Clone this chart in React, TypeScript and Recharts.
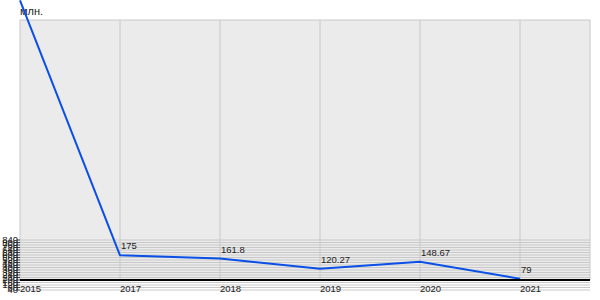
import { LineChart, Line, XAxis, YAxis, CartesianGrid, LabelList } from "recharts"

const years = ["2015", "2017", "2018", "2019", "2020", "2021"]
const values = [1220, 175, 161.8, 120.27, 148.67, 79]
const yTicks = [40, 80, 120, 160, 200, 240, 280, 320, 360, 400, 440, 480, 520, 560, 600, 640, 680, 720, 760, 800, 840]
const unit = "млн."

const data = years.map((year, i) => ({ year, value: values[i] }))

const font = "'Liberation Sans', Arial, sans-serif"

function XTick({ x, payload }: any) {
  return (
    <text x={x} y={292} textAnchor="start" fontSize={9.5} fontFamily={font} fill="#222">
      {payload.value}
    </text>
  )
}

function YTick({ y, payload }: any) {
  return (
    <g>
      <line x1={16} x2={20} y1={y} y2={y} stroke="#444" />
      <text x={18} y={y + 3} textAnchor="end" fontSize={9.5} fontFamily={font} fill="#222">
        {payload.value}
      </text>
    </g>
  )
}

function PointLabel({ x, y, value }: any) {
  return (
    <text x={x + 1} y={y - 6} textAnchor="start" fontSize={9.5} fontFamily={font} fill="#222">
      {value}
    </text>
  )
}

export default function App() {
  return (
    <div style={{ width: 600, height: 300, position: "relative", background: "#fff" }}>
      <style>{`body{margin:0} .recharts-line [clip-path], .recharts-line[clip-path]{clip-path:none !important}`}</style>
      <LineChart
        width={600}
        height={300}
        data={data}
        margin={{ top: 20, right: 10, bottom: 0, left: 0 }}
      >
        <CartesianGrid
          yAxisId="lab"
          fill="#ebebeb"
          stroke="#c8c8c8"
          strokeWidth={1}
        />
        <XAxis
          dataKey="year"
          scale="point"
          padding={{ left: 0, right: 70 }}
          height={20}
          interval={0}
          axisLine={{ stroke: "#000", strokeWidth: 2 }}
          tickLine={false}
          tick={<XTick />}
        />
        <YAxis
          yAxisId="lab"
          width={20}
          type="number"
          domain={[200, 4360]}
          allowDataOverflow
          ticks={yTicks}
          interval={0}
          axisLine={{ stroke: "#000", strokeWidth: 1 }}
          tickLine={false}
          tick={<YTick />}
        />
        <YAxis yAxisId="data" hide type="number" domain={[74, 1140]} allowDataOverflow />
        <Line
          yAxisId="data"
          type="linear"
          dataKey="value"
          stroke="#0a4fe6"
          strokeWidth={2}
          dot={false}
          isAnimationActive={false}
        >
          <LabelList dataKey="value" content={<PointLabel />} />
        </Line>
        <text x={20} y={15} fontSize={11} fontFamily={font} fill="#222">
          {unit}
        </text>
      </LineChart>
    </div>
  )
}
